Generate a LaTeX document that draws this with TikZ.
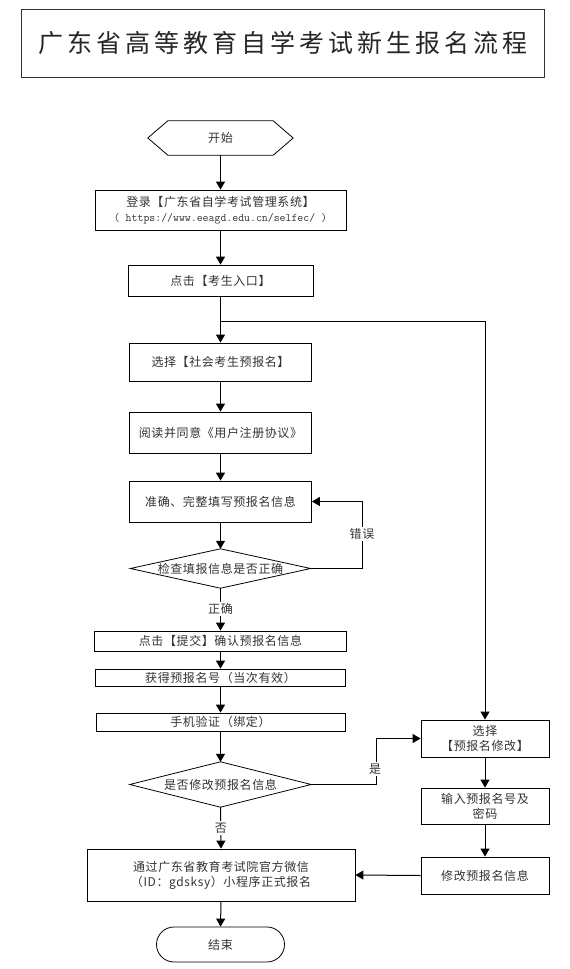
\documentclass[tikz,border=0pt]{standalone}
\usepackage{fontspec}
\setmainfont{Noto Sans CJK SC}
\newfontfamily\cjk[LetterSpace=5]{Noto Sans CJK SC}
\newfontfamily\titlefont[LetterSpace=16]{Noto Sans CJK SC}
\usetikzlibrary{arrows.meta,calc}
\begin{document}
\begin{tikzpicture}[x=1pt,y=-1pt,
  txt/.style={inner sep=0pt, align=center, text=black!80, font=\cjk\fontsize{12}{15}\selectfont},
  box/.style={txt, draw=black, line width=0.8pt},
  ghost/.style={txt},
  shapeline/.style={draw=black, line width=0.8pt},
  arr/.style={draw=black, line width=1pt, -{Triangle[length=8pt,width=9pt]}},
  lbl/.style={txt, fill=white, inner sep=1.5pt}
]
\useasboundingbox (0,0) rectangle (570,969);

% title
\node[draw=black!80, line width=0.8pt, minimum width=523, minimum height=68, inner sep=0pt,
      text=black!85, font=\titlefont\fontsize{25}{30}\selectfont] (title) at (282.5,43) {广东省高等教育自学考试新生报名流程};

% start hexagon
\node[ghost, minimum width=145, minimum height=34] (start) at (220.5,138) {开始};
\draw[shapeline] (start.west) -- ($(start.north west)+(20,0)$) -- ($(start.north east)+(-20,0)$)
  -- (start.east) -- ($(start.south east)+(-20,0)$) -- ($(start.south west)+(20,0)$) -- cycle;

\node[box, minimum width=251, minimum height=40] (login) at (220.5,210)
  {登录【广东省自学考试管理系统】\\{\ttfamily\fontsize{11.5}{15}\selectfont ( https://www.eeagd.edu.cn/selfec/ )}};
\node[box, minimum width=185, minimum height=31] (click) at (220.5,280.5) {点击【考生入口】};
\coordinate (br) at (220.5,321.5);
\node[box, minimum width=182, minimum height=38] (sel) at (220.5,362) {选择【社会考生预报名】};
\node[box, minimum width=182, minimum height=41] (read) at (220.5,432.5) {阅读并同意《用户注册协议》};
\node[box, minimum width=182, minimum height=41] (fill) at (220.5,501.5) {准确、完整填写预报名信息};

\node[ghost, minimum width=180, minimum height=39] (check) at (220.5,568.5) {检查填报信息是否正确};
\draw[shapeline] (check.west) -- (check.north) -- (check.east) -- (check.south) -- cycle;

\node[box, minimum width=252, minimum height=20] (submit) at (220.5,641) {点击【提交】确认预报名信息};
\node[box, minimum width=250, minimum height=17] (get) at (220.5,677.5) {获得预报名号（当次有效）};
\node[box, minimum width=249, minimum height=18] (phone) at (220.5,722) {手机验证（绑定）};

\node[ghost, minimum width=181, minimum height=45] (modq) at (220.5,784.5) {是否修改预报名信息};
\draw[shapeline] (modq.west) -- (modq.north) -- (modq.east) -- (modq.south) -- cycle;

\node[box, minimum width=268, minimum height=52] (via) at (221,875)
  {通过广东省教育考试院官方微信\\（ID：gdsksy）小程序正式报名};
\node[box, minimum width=128, minimum height=35, rounded corners=17.5pt] (end) at (220.5,944.5) {结束};

\node[box, minimum width=128, minimum height=37] (selmod) at (485,738.5) {选择\\【预报名修改】};
\node[box, minimum width=128, minimum height=36] (input) at (485,806) {输入预报名号及\\密码};
\node[box, minimum width=128, minimum height=37] (modinfo) at (485,875.5) {修改预报名信息};

% connectors
\draw[arr] (start.south) -- (login.north);
\draw[arr] (login.south) -- (click.north);
\draw[arr] (click.south) -- (sel.north);
\draw[arr] (br) -| (selmod.north);
\draw[arr] (sel.south) -- (read.north);
\draw[arr] (read.south) -- (fill.north);
\draw[arr] (fill.south) -- (check.north);
\draw[arr] (check.east) -- ++(52,0) |- (fill.east);
\node[lbl] (lerr) at (362,534) {错误};
\draw[arr] (check.south) -- node[lbl] (lok) {正确} (submit.north);
\draw[arr] (submit.south) -- (get.north);
\draw[arr] (get.south) -- (phone.north);
\draw[arr] (phone.south) -- (modq.north);
\draw[arr] (modq.east) -- ++(65,0) |- (selmod.west);
\node[lbl] (lyes) at (375,769) {是};
\draw[arr] (modq.south) -- node[lbl] (lno) {否} (via.north);
\draw[arr] (selmod.south) -- (input.north);
\draw[arr] (input.south) -- (modinfo.north);
\draw[arr] (modinfo.west) -- (via.east);
\draw[arr] (via.south) -- (end.north);
\end{tikzpicture}
\end{document}
